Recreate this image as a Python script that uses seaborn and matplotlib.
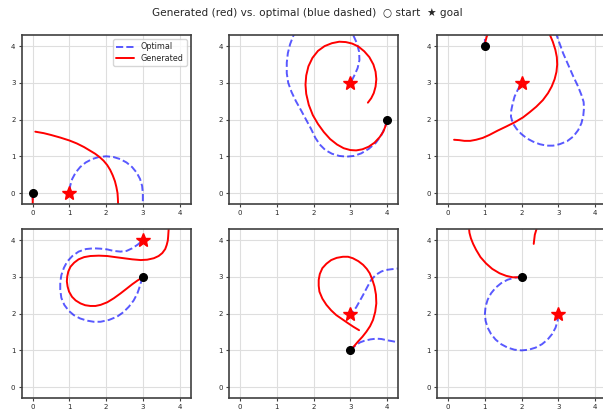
import matplotlib
matplotlib.use("Agg")
import matplotlib.pyplot as plt
import seaborn as sns

# start / goal positions for the six cases
starts = [(0, 0), (4, 2), (1, 4), (3, 3), (3, 1), (2, 3)]
goals = [(1, 0), (3, 3), (2, 3), (3, 4), (3, 2), (3, 2)]

# optimal paths (blue dashed)
opt_1 = [(0, 0), (0, -0.4), (0.2, -0.9), (0.8, -1.3), (1.6, -1.4), (2.4, -1.2),
         (2.85, -0.8), (3, -0.3), (3, 0), (2.98, 0.195), (2.924, 0.383), (2.831, 0.556),
         (2.707, 0.707), (2.556, 0.831), (2.383, 0.924), (2.195, 0.981), (2, 1),
         (1.805, 0.981), (1.617, 0.924), (1.444, 0.831), (1.293, 0.707), (1.169, 0.556),
         (1.076, 0.383), (1.02, 0.195), (1, 0)]
opt_2 = [(4, 2), (3.95, 1.8), (3.85, 1.58), (3.7, 1.37), (3.5, 1.2), (3.3, 1.08),
         (3.1, 1.01), (2.9, 0.99), (2.7, 1.01), (2.5, 1.07), (2.32, 1.17), (2.17, 1.32),
         (2.05, 1.5), (1.93, 1.75), (1.8, 1.99), (1.66, 2.25), (1.52, 2.5), (1.4, 2.75),
         (1.31, 3.0), (1.27, 3.26), (1.27, 3.55), (1.3, 3.81), (1.36, 4.05), (1.44, 4.26),
         (1.6, 4.6), (2.0, 4.85), (2.6, 4.85), (3.0, 4.6), (3.09, 4.28), (3.18, 4.08),
         (3.24, 3.85), (3.25, 3.62), (3.2, 3.4), (3.12, 3.22), (3.06, 3.1), (3, 3)]
opt_3 = [(1, 4), (1.0, 4.5), (1.5, 4.9), (2.4, 4.9), (2.85, 4.6), (2.95, 4.31),
         (3.04, 4.06), (3.13, 3.81), (3.27, 3.49), (3.41, 3.17), (3.53, 2.92), (3.63, 2.67),
         (3.69, 2.48), (3.7, 2.31), (3.68, 2.1), (3.63, 1.9), (3.54, 1.71), (3.41, 1.54),
         (3.24, 1.41), (3.04, 1.33), (2.86, 1.29), (2.68, 1.29), (2.49, 1.33), (2.31, 1.4),
         (2.14, 1.49), (1.99, 1.61), (1.86, 1.75), (1.76, 1.9), (1.71, 2.08), (1.72, 2.26),
         (1.76, 2.45), (1.81, 2.63), (1.9, 2.82), (2, 3)]
opt_4 = [(3, 3), (2.97, 2.91), (2.94, 2.83), (2.9, 2.69), (2.85, 2.55), (2.75, 2.36),
         (2.62, 2.19), (2.47, 2.04), (2.3, 1.92), (2.08, 1.83), (1.85, 1.78), (1.66, 1.78),
         (1.48, 1.81), (1.29, 1.87), (1.12, 1.96), (0.98, 2.08), (0.86, 2.24), (0.78, 2.43),
         (0.75, 2.65), (0.75, 2.85), (0.78, 3.05), (0.85, 3.25), (0.94, 3.42), (1.08, 3.57),
         (1.25, 3.69), (1.45, 3.76), (1.66, 3.78), (1.85, 3.77), (2.03, 3.75), (2.2, 3.71),
         (2.39, 3.69), (2.56, 3.71), (2.71, 3.78), (2.86, 3.88), (3, 4)]
opt_5 = [(3, 1), (3.08, 1.08), (3.16, 1.15), (3.27, 1.22), (3.38, 1.26), (3.55, 1.3),
         (3.71, 1.32), (3.85, 1.31), (3.98, 1.28), (4.15, 1.25), (4.3, 1.22), (4.7, 1.2),
         (5.0, 1.6), (5.0, 2.8), (4.6, 3.2), (4.3, 3.23), (4.12, 3.21), (3.97, 3.19),
         (3.85, 3.15), (3.7, 3.06), (3.57, 2.92), (3.46, 2.72), (3.35, 2.51), (3.25, 2.33),
         (3.16, 2.17), (3.08, 2.07), (3, 2)]
opt_6 = [(2, 3), (1.805, 2.981), (1.617, 2.924), (1.444, 2.831), (1.293, 2.707),
         (1.169, 2.556), (1.076, 2.383), (1.019, 2.195), (1, 2), (1.019, 1.805),
         (1.076, 1.617), (1.169, 1.444), (1.293, 1.293), (1.444, 1.169), (1.617, 1.076),
         (1.805, 1.019), (2, 1), (2.195, 1.019), (2.383, 1.076), (2.556, 1.169),
         (2.707, 1.293), (2.831, 1.444), (2.924, 1.617), (2.981, 1.805), (3, 2)]

# generated paths (red)
gen_1 = [(0, 0), (0, -0.4), (0.3, -1.0), (1.0, -1.3), (1.8, -1.2), (2.25, -0.8),
         (2.33, -0.4), (2.32, -0.15), (2.31, 0.0), (2.28, 0.16), (2.24, 0.32), (2.18, 0.48),
         (2.11, 0.63), (2.03, 0.76), (1.93, 0.88), (1.82, 0.98), (1.7, 1.07), (1.55, 1.16),
         (1.4, 1.25), (1.2, 1.35), (1.0, 1.43), (0.75, 1.51), (0.5, 1.58), (0.3, 1.63),
         (0.07, 1.67)]
gen_2 = [(4, 2), (3.97, 1.85), (3.9, 1.67), (3.8, 1.52), (3.66, 1.37), (3.5, 1.26),
         (3.33, 1.19), (3.16, 1.16), (3.0, 1.17), (2.82, 1.22), (2.64, 1.32), (2.45, 1.47),
         (2.28, 1.66), (2.12, 1.88), (1.98, 2.12), (1.87, 2.4), (1.8, 2.7), (1.78, 2.95),
         (1.8, 3.2), (1.86, 3.45), (1.97, 3.68), (2.12, 3.87), (2.3, 4.0), (2.5, 4.08),
         (2.7, 4.12), (2.88, 4.11), (3.05, 4.07), (3.22, 3.99), (3.38, 3.86), (3.52, 3.7),
         (3.63, 3.5), (3.69, 3.3), (3.71, 3.1), (3.69, 2.9), (3.64, 2.72), (3.57, 2.58),
         (3.48, 2.46)]
gen_3 = [(1, 4), (1.02, 4.15), (1.05, 4.26), (1.2, 4.6), (1.8, 4.9), (2.5, 4.8),
         (2.7, 4.45), (2.77, 4.31), (2.85, 4.12), (2.92, 3.9), (2.96, 3.7), (2.97, 3.5),
         (2.95, 3.3), (2.9, 3.1), (2.82, 2.9), (2.72, 2.72), (2.58, 2.53), (2.4, 2.35),
         (2.22, 2.2), (2.04, 2.06), (1.82, 1.93), (1.58, 1.81), (1.35, 1.7), (1.12, 1.58),
         (0.94, 1.5), (0.76, 1.45), (0.6, 1.42), (0.44, 1.42), (0.3, 1.44), (0.16, 1.45)]
gen_4 = [(3, 3), (2.93, 2.95), (2.85, 2.9), (2.71, 2.8), (2.57, 2.69), (2.39, 2.55),
         (2.21, 2.42), (2.03, 2.31), (1.85, 2.24), (1.71, 2.21), (1.57, 2.21), (1.43, 2.23),
         (1.3, 2.28), (1.17, 2.36), (1.07, 2.46), (0.99, 2.6), (0.95, 2.74), (0.93, 2.88),
         (0.94, 3.01), (0.97, 3.15), (1.03, 3.28), (1.13, 3.39), (1.25, 3.48), (1.4, 3.54),
         (1.57, 3.57), (1.8, 3.58), (2.03, 3.57), (2.25, 3.54), (2.48, 3.51), (2.71, 3.48),
         (2.94, 3.46), (3.12, 3.47), (3.3, 3.51), (3.43, 3.57), (3.53, 3.65), (3.61, 3.76),
         (3.65, 3.87), (3.68, 3.99), (3.69, 4.1), (3.71, 4.4)]
gen_5 = [(3, 1), (3.1, 1.11), (3.21, 1.24), (3.33, 1.37), (3.44, 1.51), (3.54, 1.66),
         (3.62, 1.83), (3.68, 2.05), (3.71, 2.28), (3.7, 2.52), (3.66, 2.74), (3.6, 2.93),
         (3.53, 3.1), (3.45, 3.22), (3.35, 3.33), (3.22, 3.43), (3.07, 3.51), (2.94, 3.55),
         (2.8, 3.55), (2.63, 3.52), (2.48, 3.46), (2.35, 3.36), (2.24, 3.24), (2.17, 3.08),
         (2.14, 2.92), (2.14, 2.76), (2.16, 2.6), (2.24, 2.41), (2.35, 2.24), (2.48, 2.09),
         (2.62, 1.96), (2.78, 1.85), (2.94, 1.74), (3.09, 1.64), (3.24, 1.55)]
gen_6 = [(2, 3), (1.88, 2.99), (1.76, 2.99), (1.58, 3.03), (1.4, 3.1), (1.2, 3.22),
         (1.03, 3.37), (0.88, 3.54), (0.76, 3.74), (0.68, 3.9), (0.62, 4.05), (0.58, 4.2),
         (0.56, 4.4), (0.8, 4.9), (1.6, 5.1), (2.3, 4.8), (2.42, 4.35), (2.36, 4.15),
         (2.33, 3.9)]

optimal = [opt_1, opt_2, opt_3, opt_4, opt_5, opt_6]
generated = [gen_1, gen_2, gen_3, gen_4, gen_5, gen_6]
ticks = [0, 1, 2, 3, 4]

sns.set_style("whitegrid", {"axes.edgecolor": ".25", "grid.color": ".87",
                            "xtick.bottom": True, "ytick.left": True})

fig, axes = plt.subplots(2, 3, figsize=(6.03, 4.13), dpi=100)
lefts = [0.036, 0.380, 0.725]
bottoms = [0.506, 0.036]

for i, ax in enumerate(axes.flat):
    ax.set_position([lefts[i % 3], bottoms[i // 3], 0.280, 0.409])
    ox, oy = zip(*optimal[i])
    gx, gy = zip(*generated[i])
    sns.lineplot(x=list(ox), y=list(oy), sort=False, estimator=None, ax=ax,
                 color="blue", alpha=0.65, linestyle="--", linewidth=1.4,
                 label="Optimal", legend=False)
    sns.lineplot(x=list(gx), y=list(gy), sort=False, estimator=None, ax=ax,
                 color="red", linewidth=1.4, label="Generated", legend=False)
    ax.plot(*starts[i], "o", color="black", markersize=5.5, zorder=5)
    ax.plot(*goals[i], "*", color="red", markersize=10, zorder=5)
    ax.set_xlim(-0.3, 4.3)
    ax.set_ylim(-0.3, 4.3)
    ax.set_xticks(ticks)
    ax.set_yticks(ticks)
    ax.tick_params(labelsize=5, length=2.5, width=0.8, pad=2, color=".25")
    for s in ax.spines.values():
        s.set_linewidth(1.2)
    if i == 0:
        ax.legend(loc="upper right", fontsize=5.8, handlelength=2.2,
                  borderpad=0.4, labelspacing=0.3)

fig.suptitle("Generated (red) vs. optimal (blue dashed)  \u25cb start  \u2605 goal",
             fontsize=7.6, x=0.51, y=0.969, va="center")
fig.savefig("out.png", dpi=100)
